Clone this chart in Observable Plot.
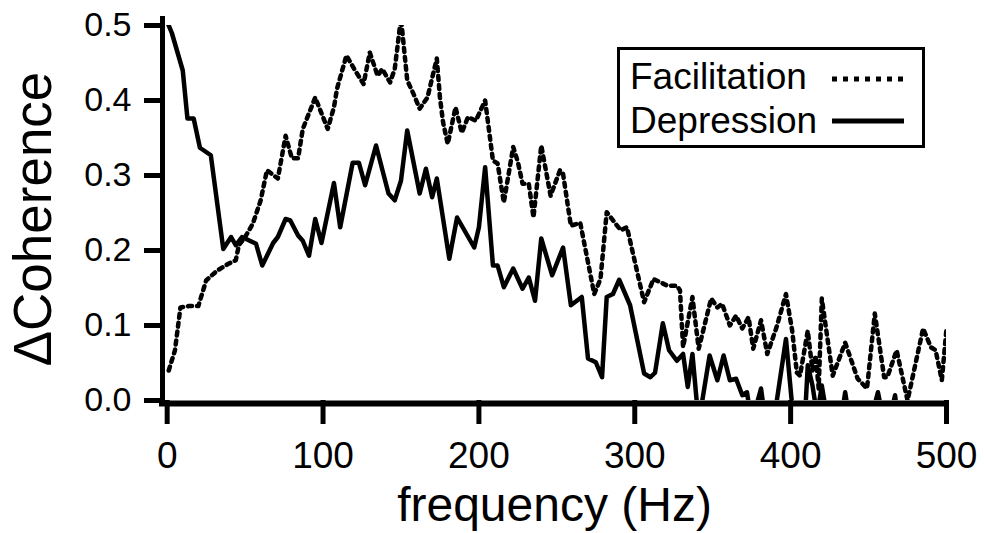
<!DOCTYPE html>
<html>
<head>
<meta charset="utf-8">
<script src="https://cdn.jsdelivr.net/npm/d3@7"></script>
<script src="https://cdn.jsdelivr.net/npm/@observablehq/plot@0.6"></script>
<style>
  body { margin: 0; background: white; }
  #wrap { position: relative; width: 984px; height: 533px; font-family: "Liberation Sans", Arial, Helvetica, sans-serif; }
  #legend { position: absolute; left: 617px; top: 47px; width: 302px; height: 95px; border: 3px solid black; background: white; }
  .lg-text { position: absolute; left: 10px; font-size: 37px; line-height: 1; color: black; }
  .lg-sample { position: absolute; left: 212px; width: 72px; height: 0; }
</style>
</head>
<body>
<div id="wrap">
  <div id="chart"></div>
  <div id="legend">
    <div class="lg-text" style="top: 8px;">Facilitation</div>
    <svg class="lg-sample" style="top: 25px; height: 8px;" width="74" height="8"><line x1="0" y1="4" x2="72" y2="4" stroke="black" stroke-width="5" stroke-dasharray="5,6"/></svg>
    <div class="lg-text" style="top: 52px;">Depression</div>
    <svg class="lg-sample" style="top: 67px; height: 8px;" width="80" height="8"><line x1="0" y1="4" x2="78" y2="4" stroke="black" stroke-width="5"/></svg>
  </div>
</div>
<script>
// Frequency (Hz) and ΔCoherence for the Depression series (solid)
const depFreq = [0, 3, 10, 13, 17, 21, 28, 36, 41, 44, 48, 53, 57, 61, 68, 71, 76, 79, 84, 87, 91, 95, 99,
  107, 111, 119, 123, 127, 134, 142, 146, 150, 154, 162, 166, 170, 173, 181, 186, 197, 200, 204, 209, 212,
  216, 222, 228, 232, 236, 240, 247, 254, 259, 266, 270, 275, 279, 282, 286, 290, 297, 306, 310, 313, 318,
  322, 327, 331, 334, 337, 341, 348, 353, 357, 361, 365, 369, 372, 375, 381, 384, 389, 397, 402, 409, 411,
  414, 417, 420, 424, 432, 435, 438, 451, 456, 460, 464, 467, 469, 500];
const depCoh = [0.505, 0.49, 0.44, 0.376, 0.376, 0.337, 0.327, 0.202, 0.218, 0.207, 0.218, 0.213, 0.209, 0.18,
  0.21, 0.218, 0.242, 0.24, 0.22, 0.213, 0.193, 0.242, 0.21, 0.29, 0.231, 0.317, 0.317, 0.287, 0.34, 0.276,
  0.267, 0.293, 0.36, 0.276, 0.309, 0.271, 0.296, 0.189, 0.244, 0.204, 0.231, 0.311, 0.18, 0.18, 0.151,
  0.176, 0.149, 0.164, 0.133, 0.216, 0.167, 0.204, 0.127, 0.138, 0.056, 0.051, 0.031, 0.138, 0.142, 0.161,
  0.127, 0.036, 0.031, 0.037, 0.103, 0.067, 0.053, 0.062, 0.018, 0.062, -0.03, 0.06, 0.027, 0.06, 0.027,
  0.029, 0.007, 0.011, -0.03, 0.016, -0.03, -0.03, 0.082, -0.03, -0.03, 0.047, 0.02, -0.02, 0.02, -0.03,
  -0.03, 0.011, -0.03, -0.03, 0.011, -0.03, -0.02, 0.007, -0.03, -0.03];

// Frequency (Hz) and ΔCoherence for the Facilitation series (dotted)
const facFreq = [1, 5, 8.5, 14, 20, 25, 32, 39, 44, 46, 50, 55, 60, 64, 71, 76, 80, 84, 87, 95, 103, 107,
  109, 115, 120, 126, 130, 135, 138, 143, 146, 150, 154, 158, 162, 167, 173, 175, 177, 180, 185, 189, 193,
  198, 204, 209, 212, 216, 222, 225, 228, 232, 235, 240, 246, 252, 254, 259, 265, 274, 278, 282, 291, 295,
  306, 312, 321, 327, 329, 331, 337, 341, 349, 353, 356, 361, 365, 369, 373, 376, 381, 385, 391, 397, 401,
  404, 406, 411, 414, 416, 418, 420, 427, 435, 443, 449, 454, 460, 462, 468, 475, 485, 490, 493, 497, 500];
const facCoh = [0.04, 0.067, 0.124, 0.126, 0.126, 0.16, 0.173, 0.182, 0.187, 0.207, 0.218, 0.236, 0.267,
  0.307, 0.296, 0.353, 0.323, 0.323, 0.362, 0.404, 0.362, 0.391, 0.416, 0.46, 0.442, 0.422, 0.464, 0.433,
  0.442, 0.424, 0.442, 0.51, 0.427, 0.409, 0.389, 0.404, 0.456, 0.404, 0.371, 0.342, 0.391, 0.357, 0.378,
  0.373, 0.4, 0.32, 0.316, 0.264, 0.338, 0.318, 0.289, 0.289, 0.244, 0.34, 0.273, 0.307, 0.302, 0.233,
  0.237, 0.142, 0.162, 0.251, 0.227, 0.231, 0.131, 0.162, 0.153, 0.153, 0.147, 0.071, 0.138, 0.069, 0.136,
  0.124, 0.129, 0.1, 0.113, 0.096, 0.111, 0.069, 0.107, 0.062, 0.098, 0.142, 0.093, 0.037, 0.033, 0.093,
  0.04, 0.06, 0.016, 0.136, 0.033, 0.077, 0.029, 0.016, 0.116, 0.031, 0.031, 0.067, 0.0, 0.096, 0.071,
  0.067, 0.027, 0.096];

const xTicks = [0, 100, 200, 300, 400, 500];
const yTicks = [0, 0.1, 0.2, 0.3, 0.4, 0.5];
const xLabel = "frequency (Hz)";
const yLabel = "ΔCoherence";

const dep = depFreq.map((f, i) => ({f, c: depCoh[i]}));
const fac = facFreq.map((f, i) => ({f, c: facCoh[i]}));

const chart = Plot.plot({
  width: 984,
  height: 533,
  marginLeft: 162,
  marginRight: 38,
  marginTop: 25,
  marginBottom: 133,
  x: {domain: [-3, 500]},
  y: {domain: [0, 0.5]},
  style: {fontFamily: "'Liberation Sans', Arial, Helvetica, sans-serif", background: "white", color: "black"},
  marks: [
    Plot.line(fac, {x: "f", y: "c", stroke: "black", strokeWidth: 4.5, strokeDasharray: "4,5", strokeLinejoin: "round", clip: true}),
    Plot.line(dep, {x: "f", y: "c", stroke: "black", strokeWidth: 4.5, strokeLinejoin: "round", clip: true}),
    Plot.axisX({ticks: xTicks, tickSize: 24, tickPadding: 17, fontSize: 37, strokeWidth: 5, label: null, tickFormat: d3.format("d")}),
    Plot.axisY({ticks: yTicks, tickSize: 18, tickPadding: 13, fontSize: 34, strokeWidth: 5, label: null, tickFormat: d3.format(".1f")}),
    Plot.frame({anchor: "left", strokeWidth: 5, insetTop: -7}),
    Plot.ruleY([0], {dy: 3, strokeWidth: 6, insetLeft: -3, insetRight: -2}),
    Plot.text([xLabel], {frameAnchor: "bottom", textAnchor: "middle", dy: 105, fontSize: 48, lineAnchor: "middle"}),
    Plot.text([yLabel], {frameAnchor: "left", textAnchor: "middle", rotate: -90, dx: -128, dy: 6, fontSize: 53, lineAnchor: "middle"})
  ]
});
document.getElementById("chart").appendChild(chart);
</script>
</body>
</html>
